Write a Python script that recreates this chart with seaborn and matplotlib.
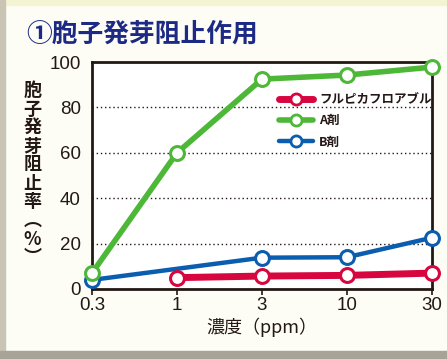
import matplotlib
matplotlib.use("Agg")
import matplotlib.pyplot as plt
import matplotlib.patches as mpatches
from matplotlib.lines import Line2D
import seaborn as sns
import pandas as pd

# ---- data ----
conc_labels = ["0.3", "1", "3", "10", "30"]
series_names = ["フルピカフロアブル", "A剤", "B剤"]
fulpika_x = ["1", "3", "10", "30"]
fulpika_y = [5, 5.7, 6, 7]
a_x = ["0.3", "1", "3", "10", "30"]
a_y = [7, 60, 92.5, 94.3, 97.8]
b_x = ["0.3", "3", "10", "30"]
b_y = [4, 13.8, 14, 22.6]
y_ticks = [0, 20, 40, 60, 80, 100]

colors = {"フルピカフロアブル": "#d7063f", "A剤": "#4db738", "B剤": "#0b5db0"}
widths = {"フルピカフロアブル": 5.0, "A剤": 4.0, "B剤": 3.2}

def frame(name, xs, ys):
    return pd.DataFrame({"pos": [conc_labels.index(v) for v in xs], "val": ys, "series": name})

dfs = {
    "フルピカフロアブル": frame("フルピカフロアブル", fulpika_x, fulpika_y),
    "A剤": frame("A剤", a_x, a_y),
    "B剤": frame("B剤", b_x, b_y),
}

sns.set_theme(style="white")
plt.rcParams["font.family"] = ["Noto Sans CJK JP", "DejaVu Sans"]

fig = plt.figure(figsize=(4.47, 3.59), dpi=100)
fig.patch.set_facecolor("#fdfdf6")
# decorative border strips
fig.add_artist(mpatches.Rectangle((0, 0.985), 1, 0.015, transform=fig.transFigure, color="#f4f3d2", zorder=0))
fig.add_artist(mpatches.Rectangle((0, 0), 0.012, 1, transform=fig.transFigure, color="#c9c4b4", zorder=0))
fig.add_artist(mpatches.Rectangle((0, 0), 1, 0.022, transform=fig.transFigure, color="#a8a397", zorder=0))

ax = fig.add_axes([0.2058, 0.195, 0.7606, 0.632])
ax.set_facecolor("white")

for name in ["B剤", "フルピカフロアブル", "A剤"]:
    sns.lineplot(data=dfs[name], x="pos", y="val", ax=ax, color=colors[name],
                 linewidth=widths[name], marker="o", markersize=10,
                 markerfacecolor="white", markeredgecolor=colors[name],
                 markeredgewidth=2.2, legend=False, zorder=3, clip_on=False)

ax.set_xlim(0, len(conc_labels) - 1)
ax.set_ylim(0, 100)
ax.set_xticks(range(len(conc_labels)))
ax.set_xticklabels(conc_labels, fontfamily="Liberation Sans")
ax.set_yticks(y_ticks)
ax.set_yticklabels([str(t) for t in y_ticks], fontfamily="Liberation Sans")
ax.tick_params(axis="x", length=4, width=1.2, color="#231815", labelsize=13.5, pad=2, labelcolor="#231815")
ax.tick_params(axis="y", length=0, labelsize=13.5, pad=8, labelcolor="#231815")
ax.xaxis.set_ticks_position("bottom")

for t in [20, 40, 60, 80]:
    ax.axhline(t, color="#231815", linestyle=(0, (1, 2)), linewidth=1.0, zorder=1)

for s in ax.spines.values():
    s.set_color("#231815")
    s.set_linewidth(2)
    s.set_visible(True)

ax.set_xlabel("濃度（ppm）", fontsize=13, color="#231815", labelpad=2)
ax.set_ylabel("")

fig.text(0.072, 0.515, "胞\n子\n発\n芽\n阻\n止\n率\n︵\n%\n︶", ha="center", va="center",
         fontsize=13, fontweight="bold", color="#231815", linespacing=0.97)

fig.text(0.058, 0.906, "①胞子発芽阻止作用", ha="left", va="center", fontsize=18.5,
         fontweight="bold", color="#1c2a85")

handles = [Line2D([0], [0], color=colors[n], linewidth=widths[n], marker="o", markersize=8,
                  markerfacecolor="white", markeredgecolor=colors[n], markeredgewidth=2)
           for n in series_names]
leg = ax.legend(handles, series_names, loc="upper left", bbox_to_anchor=(0.535, 0.885),
                frameon=False, fontsize=9, handlelength=2.7, labelspacing=0.65,
                handletextpad=0.5, borderaxespad=0)
for t in leg.get_texts():
    t.set_color("#231815")
    t.set_fontweight("bold")

fig.savefig("out.png", dpi=100, facecolor=fig.get_facecolor())
